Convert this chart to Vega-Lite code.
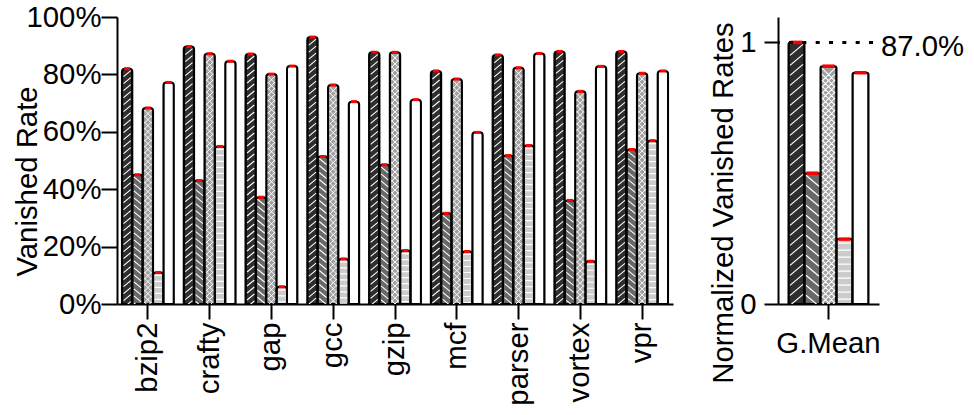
{
  "$schema": "https://vega.github.io/schema/vega-lite/v6.json",
  "background": "white",
  "padding": {"left": 13, "top": 3, "right": 5, "bottom": 3},
  "bounds": "flush",
  "spacing": 105,
  "resolve": {"scale": {"xOffset": "independent", "fill": "independent"}},
  "config": {
    "font": "Liberation Sans",
    "view": {"stroke": null},
    "axis": {
      "domainColor": "#000",
      "domainWidth": 2,
      "tickColor": "#000",
      "tickWidth": 2,
      "labelColor": "#000",
      "labelFontSize": 29.33,
      "titleFontSize": 29.33,
      "titleFontWeight": "normal",
      "titleColor": "#000",
      "grid": false,
      "labelOverlap": false,
      "zindex": 1
    }
  },
  "datasets": {
    "bench": [
      {"bench": "bzip2", "scheme": "s1", "rate": 0.82},
      {"bench": "bzip2", "scheme": "s2", "rate": 0.45},
      {"bench": "bzip2", "scheme": "s3", "rate": 0.683},
      {"bench": "bzip2", "scheme": "s4", "rate": 0.11},
      {"bench": "bzip2", "scheme": "s5", "rate": 0.772},
      {"bench": "crafty", "scheme": "s1", "rate": 0.897},
      {"bench": "crafty", "scheme": "s2", "rate": 0.43},
      {"bench": "crafty", "scheme": "s3", "rate": 0.872},
      {"bench": "crafty", "scheme": "s4", "rate": 0.549},
      {"bench": "crafty", "scheme": "s5", "rate": 0.846},
      {"bench": "gap", "scheme": "s1", "rate": 0.871},
      {"bench": "gap", "scheme": "s2", "rate": 0.372},
      {"bench": "gap", "scheme": "s3", "rate": 0.801},
      {"bench": "gap", "scheme": "s4", "rate": 0.06},
      {"bench": "gap", "scheme": "s5", "rate": 0.829},
      {"bench": "gcc", "scheme": "s1", "rate": 0.93},
      {"bench": "gcc", "scheme": "s2", "rate": 0.514},
      {"bench": "gcc", "scheme": "s3", "rate": 0.763},
      {"bench": "gcc", "scheme": "s4", "rate": 0.157},
      {"bench": "gcc", "scheme": "s5", "rate": 0.705},
      {"bench": "gzip", "scheme": "s1", "rate": 0.877},
      {"bench": "gzip", "scheme": "s2", "rate": 0.485},
      {"bench": "gzip", "scheme": "s3", "rate": 0.877},
      {"bench": "gzip", "scheme": "s4", "rate": 0.186},
      {"bench": "gzip", "scheme": "s5", "rate": 0.712},
      {"bench": "mcf", "scheme": "s1", "rate": 0.812},
      {"bench": "mcf", "scheme": "s2", "rate": 0.316},
      {"bench": "mcf", "scheme": "s3", "rate": 0.784},
      {"bench": "mcf", "scheme": "s4", "rate": 0.183},
      {"bench": "mcf", "scheme": "s5", "rate": 0.598},
      {"bench": "parser", "scheme": "s1", "rate": 0.868},
      {"bench": "parser", "scheme": "s2", "rate": 0.517},
      {"bench": "parser", "scheme": "s3", "rate": 0.823},
      {"bench": "parser", "scheme": "s4", "rate": 0.552},
      {"bench": "parser", "scheme": "s5", "rate": 0.873},
      {"bench": "vortex", "scheme": "s1", "rate": 0.88},
      {"bench": "vortex", "scheme": "s2", "rate": 0.361},
      {"bench": "vortex", "scheme": "s3", "rate": 0.741},
      {"bench": "vortex", "scheme": "s4", "rate": 0.149},
      {"bench": "vortex", "scheme": "s5", "rate": 0.828},
      {"bench": "vpr", "scheme": "s1", "rate": 0.88},
      {"bench": "vpr", "scheme": "s2", "rate": 0.538},
      {"bench": "vpr", "scheme": "s3", "rate": 0.804},
      {"bench": "vpr", "scheme": "s4", "rate": 0.569},
      {"bench": "vpr", "scheme": "s5", "rate": 0.812}
    ],
    "gmean": [
      {"cat": "G.Mean", "scheme": "s1", "norm": 1.0},
      {"cat": "G.Mean", "scheme": "s2", "norm": 0.5},
      {"cat": "G.Mean", "scheme": "s3", "norm": 0.909},
      {"cat": "G.Mean", "scheme": "s4", "norm": 0.248},
      {"cat": "G.Mean", "scheme": "s5", "norm": 0.884}
    ],
    "gmeanRef": [
      {"cat": "G.Mean", "norm": 1, "abs": 0.87}
    ]
  },
  "hconcat": [
    {
      "width": 556,
      "height": 287,
      "data": {"name": "bench"},
      "encoding": {
        "x": {
          "field": "bench", "type": "nominal", "sort": null,
          "scale": {"type": "band", "paddingInner": 0.16, "paddingOuter": 0.08},
          "axis": {"title": null, "labelAngle": -90, "tickSize": 15, "labelPadding": 3}
        },
        "xOffset": {
          "field": "scheme", "type": "nominal",
          "scale": {"domain": ["s1", "s2", "s3", "s4", "s5"], "paddingInner": 0, "paddingOuter": 0}
        },
        "y": {
          "field": "rate", "type": "quantitative",
          "scale": {"domain": [0, 1], "nice": false},
          "axis": {
            "title": "Vanished Rate",
            "values": [0, 0.2, 0.4, 0.6, 0.8, 1],
            "format": ".0%",
            "tickSize": 16,
            "labelPadding": 0,
            "titleAngle": -90,
            "titleX": -81,
            "titleY": 164,
            "titleAlign": "center",
            "titleBaseline": "alphabetic"
          }
        }
      },
      "layer": [
        {
          "mark": {"type": "bar", "stroke": "#000", "strokeWidth": 2, "cornerRadiusEnd": 3},
          "encoding": {
            "fill": {
              "field": "scheme", "type": "nominal", "legend": null,
              "scale": {"domain": ["s1", "s2", "s3", "s4", "s5"], "range": ["#2e2e2e", "#686868", "#a0a0a0", "#cccccc", "#ffffff"]}
            }
          }
        },
        {
          "transform": [{"filter": "datum.scheme === 's1'"}],
          "mark": {
            "type": "point", "filled": false, "size": 4, "opacity": 1, "clip": true,
            "stroke": "#ffffff", "strokeWidth": 1.1,
            "shape": "M-3.6 8l7.2 -6m-7.2 13l7.2 -6m-7.2 13l7.2 -6m-7.2 13l7.2 -6m-7.2 13l7.2 -6m-7.2 13l7.2 -6m-7.2 13l7.2 -6m-7.2 13l7.2 -6m-7.2 13l7.2 -6m-7.2 13l7.2 -6m-7.2 13l7.2 -6m-7.2 13l7.2 -6m-7.2 13l7.2 -6m-7.2 13l7.2 -6m-7.2 13l7.2 -6m-7.2 13l7.2 -6m-7.2 13l7.2 -6m-7.2 13l7.2 -6m-7.2 13l7.2 -6m-7.2 13l7.2 -6m-7.2 13l7.2 -6m-7.2 13l7.2 -6m-7.2 13l7.2 -6m-7.2 13l7.2 -6m-7.2 13l7.2 -6m-7.2 13l7.2 -6m-7.2 13l7.2 -6m-7.2 13l7.2 -6m-7.2 13l7.2 -6m-7.2 13l7.2 -6m-7.2 13l7.2 -6m-7.2 13l7.2 -6m-7.2 13l7.2 -6m-7.2 13l7.2 -6m-7.2 13l7.2 -6m-7.2 13l7.2 -6m-7.2 13l7.2 -6m-7.2 13l7.2 -6m-7.2 13l7.2 -6m-7.2 13l7.2 -6m-7.2 13l7.2 -6"
          }
        },
        {
          "transform": [{"filter": "datum.scheme === 's2'"}],
          "mark": {
            "type": "point", "filled": false, "size": 4, "opacity": 1, "clip": true,
            "stroke": "#ffffff", "strokeWidth": 1.1,
            "shape": "M-3.6 2l7.2 6m-7.2 1l7.2 6m-7.2 1l7.2 6m-7.2 1l7.2 6m-7.2 1l7.2 6m-7.2 1l7.2 6m-7.2 1l7.2 6m-7.2 1l7.2 6m-7.2 1l7.2 6m-7.2 1l7.2 6m-7.2 1l7.2 6m-7.2 1l7.2 6m-7.2 1l7.2 6m-7.2 1l7.2 6m-7.2 1l7.2 6m-7.2 1l7.2 6m-7.2 1l7.2 6m-7.2 1l7.2 6m-7.2 1l7.2 6m-7.2 1l7.2 6m-7.2 1l7.2 6m-7.2 1l7.2 6m-7.2 1l7.2 6m-7.2 1l7.2 6m-7.2 1l7.2 6m-7.2 1l7.2 6"
          }
        },
        {
          "transform": [{"filter": "datum.scheme === 's3'"}],
          "mark": {
            "type": "point", "filled": false, "size": 4, "opacity": 1, "clip": true,
            "stroke": "#ffffff", "strokeWidth": 1,
            "shape": "M-3.6 9.2l7.2 -7.2m-7.2 13.2l7.2 -7.2m-7.2 13.2l7.2 -7.2m-7.2 13.2l7.2 -7.2m-7.2 13.2l7.2 -7.2m-7.2 13.2l7.2 -7.2m-7.2 13.2l7.2 -7.2m-7.2 13.2l7.2 -7.2m-7.2 13.2l7.2 -7.2m-7.2 13.2l7.2 -7.2m-7.2 13.2l7.2 -7.2m-7.2 13.2l7.2 -7.2m-7.2 13.2l7.2 -7.2m-7.2 13.2l7.2 -7.2m-7.2 13.2l7.2 -7.2m-7.2 13.2l7.2 -7.2m-7.2 13.2l7.2 -7.2m-7.2 13.2l7.2 -7.2m-7.2 13.2l7.2 -7.2m-7.2 13.2l7.2 -7.2m-7.2 13.2l7.2 -7.2m-7.2 13.2l7.2 -7.2m-7.2 13.2l7.2 -7.2m-7.2 13.2l7.2 -7.2m-7.2 13.2l7.2 -7.2m-7.2 13.2l7.2 -7.2m-7.2 13.2l7.2 -7.2m-7.2 13.2l7.2 -7.2m-7.2 13.2l7.2 -7.2m-7.2 13.2l7.2 -7.2m-7.2 13.2l7.2 -7.2m-7.2 13.2l7.2 -7.2m-7.2 13.2l7.2 -7.2m-7.2 13.2l7.2 -7.2m-7.2 13.2l7.2 -7.2m-7.2 13.2l7.2 -7.2m-7.2 13.2l7.2 -7.2m-7.2 13.2l7.2 -7.2m-7.2 13.2l7.2 -7.2m-7.2 13.2l7.2 -7.2m-7.2 13.2l7.2 -7.2m-7.2 13.2l7.2 -7.2m-7.2 13.2l7.2 -7.2m-7.2 13.2l7.2 -7.2M-3.6 2l7.2 7.2m-7.2 -1.2l7.2 7.2m-7.2 -1.2l7.2 7.2m-7.2 -1.2l7.2 7.2m-7.2 -1.2l7.2 7.2m-7.2 -1.2l7.2 7.2m-7.2 -1.2l7.2 7.2m-7.2 -1.2l7.2 7.2m-7.2 -1.2l7.2 7.2m-7.2 -1.2l7.2 7.2m-7.2 -1.2l7.2 7.2m-7.2 -1.2l7.2 7.2m-7.2 -1.2l7.2 7.2m-7.2 -1.2l7.2 7.2m-7.2 -1.2l7.2 7.2m-7.2 -1.2l7.2 7.2m-7.2 -1.2l7.2 7.2m-7.2 -1.2l7.2 7.2m-7.2 -1.2l7.2 7.2m-7.2 -1.2l7.2 7.2m-7.2 -1.2l7.2 7.2m-7.2 -1.2l7.2 7.2m-7.2 -1.2l7.2 7.2m-7.2 -1.2l7.2 7.2m-7.2 -1.2l7.2 7.2m-7.2 -1.2l7.2 7.2m-7.2 -1.2l7.2 7.2m-7.2 -1.2l7.2 7.2m-7.2 -1.2l7.2 7.2m-7.2 -1.2l7.2 7.2m-7.2 -1.2l7.2 7.2m-7.2 -1.2l7.2 7.2m-7.2 -1.2l7.2 7.2m-7.2 -1.2l7.2 7.2m-7.2 -1.2l7.2 7.2m-7.2 -1.2l7.2 7.2m-7.2 -1.2l7.2 7.2m-7.2 -1.2l7.2 7.2m-7.2 -1.2l7.2 7.2m-7.2 -1.2l7.2 7.2m-7.2 -1.2l7.2 7.2m-7.2 -1.2l7.2 7.2m-7.2 -1.2l7.2 7.2m-7.2 -1.2l7.2 7.2m-7.2 -1.2l7.2 7.2"
          }
        },
        {
          "transform": [{"filter": "datum.scheme === 's4'"}],
          "mark": {
            "type": "point", "filled": false, "size": 4, "opacity": 1, "clip": true,
            "stroke": "#ffffff", "strokeWidth": 1.2,
            "shape": "M-3.6 3h7.2m-7.2 6h7.2m-7.2 6h7.2m-7.2 6h7.2m-7.2 6h7.2m-7.2 6h7.2m-7.2 6h7.2m-7.2 6h7.2m-7.2 6h7.2m-7.2 6h7.2m-7.2 6h7.2m-7.2 6h7.2m-7.2 6h7.2m-7.2 6h7.2m-7.2 6h7.2m-7.2 6h7.2m-7.2 6h7.2m-7.2 6h7.2m-7.2 6h7.2m-7.2 6h7.2m-7.2 6h7.2m-7.2 6h7.2m-7.2 6h7.2m-7.2 6h7.2m-7.2 6h7.2m-7.2 6h7.2m-7.2 6h7.2m-7.2 6h7.2m-7.2 6h7.2m-7.2 6h7.2"
          }
        },
        {
          "mark": {"type": "tick", "color": "#ff0000", "size": 6, "thickness": 3, "opacity": 1}
        }
      ]
    },
    {
      "width": 101,
      "height": 287,
      "data": {"name": "gmean"},
      "layer": [
        {
          "mark": {"type": "bar", "stroke": "#000", "strokeWidth": 2, "cornerRadiusEnd": 2},
          "encoding": {
            "x": {
              "field": "cat", "type": "nominal",
              "scale": {"type": "band", "paddingInner": 0, "paddingOuter": 0},
              "axis": {"title": null, "labelAngle": 0, "tickSize": 15, "labelPadding": 10}
            },
            "xOffset": {
              "field": "scheme", "type": "nominal",
              "scale": {"domain": ["s1", "s2", "s3", "s4", "s5"], "paddingInner": 0, "paddingOuter": 0.656}
            },
            "y": {
              "field": "norm", "type": "quantitative",
              "scale": {"domain": [0, 1.097], "nice": false},
              "axis": {
                "title": "Normalized Vanished Rates",
                "values": [0, 1],
                "format": "d",
                "tickSize": 14,
                "labelPadding": 8,
                "titleAngle": -90,
                "titleX": -46,
                "titleY": 185.5,
                "titleAlign": "center",
                "titleBaseline": "alphabetic"
              }
            },
            "fill": {
              "field": "scheme", "type": "nominal", "legend": null,
              "scale": {"domain": ["s1", "s2", "s3", "s4", "s5"], "range": ["#2e2e2e", "#686868", "#a0a0a0", "#cccccc", "#ffffff"]}
            }
          }
        },
        {
          "transform": [{"filter": "datum.scheme === 's1'"}],
          "mark": {
            "type": "point", "filled": false, "size": 4, "opacity": 1, "clip": true,
            "stroke": "#ffffff", "strokeWidth": 1.2,
            "shape": "M-6.5 13l13 -11m-13 21l13 -11m-13 21l13 -11m-13 21l13 -11m-13 21l13 -11m-13 21l13 -11m-13 21l13 -11m-13 21l13 -11m-13 21l13 -11m-13 21l13 -11m-13 21l13 -11m-13 21l13 -11m-13 21l13 -11m-13 21l13 -11m-13 21l13 -11m-13 21l13 -11m-13 21l13 -11m-13 21l13 -11m-13 21l13 -11m-13 21l13 -11m-13 21l13 -11m-13 21l13 -11m-13 21l13 -11m-13 21l13 -11m-13 21l13 -11m-13 21l13 -11m-13 21l13 -11m-13 21l13 -11m-13 21l13 -11"
          },
          "encoding": {
            "x": {"field": "cat", "type": "nominal"},
            "xOffset": {"field": "scheme", "type": "nominal"},
            "y": {"field": "norm", "type": "quantitative"}
          }
        },
        {
          "transform": [{"filter": "datum.scheme === 's2'"}],
          "mark": {
            "type": "point", "filled": false, "size": 4, "opacity": 1, "clip": true,
            "stroke": "#ffffff", "strokeWidth": 1.2,
            "shape": "M-6.5 2l13 11m-13 -1l13 11m-13 -1l13 11m-13 -1l13 11m-13 -1l13 11m-13 -1l13 11m-13 -1l13 11m-13 -1l13 11m-13 -1l13 11m-13 -1l13 11m-13 -1l13 11m-13 -1l13 11m-13 -1l13 11m-13 -1l13 11m-13 -1l13 11m-13 -1l13 11"
          },
          "encoding": {
            "x": {"field": "cat", "type": "nominal"},
            "xOffset": {"field": "scheme", "type": "nominal"},
            "y": {"field": "norm", "type": "quantitative"}
          }
        },
        {
          "transform": [{"filter": "datum.scheme === 's3'"}],
          "mark": {
            "type": "point", "filled": false, "size": 4, "opacity": 1, "clip": true,
            "stroke": "#ffffff", "strokeWidth": 1.1,
            "shape": "M-6.5 15l13 -13m-13 19l13 -13m-13 19l13 -13m-13 19l13 -13m-13 19l13 -13m-13 19l13 -13m-13 19l13 -13m-13 19l13 -13m-13 19l13 -13m-13 19l13 -13m-13 19l13 -13m-13 19l13 -13m-13 19l13 -13m-13 19l13 -13m-13 19l13 -13m-13 19l13 -13m-13 19l13 -13m-13 19l13 -13m-13 19l13 -13m-13 19l13 -13m-13 19l13 -13m-13 19l13 -13m-13 19l13 -13m-13 19l13 -13m-13 19l13 -13m-13 19l13 -13m-13 19l13 -13m-13 19l13 -13m-13 19l13 -13m-13 19l13 -13m-13 19l13 -13m-13 19l13 -13m-13 19l13 -13m-13 19l13 -13m-13 19l13 -13m-13 19l13 -13m-13 19l13 -13m-13 19l13 -13m-13 19l13 -13m-13 19l13 -13m-13 19l13 -13M-6.5 2l13 13m-13 -7l13 13m-13 -7l13 13m-13 -7l13 13m-13 -7l13 13m-13 -7l13 13m-13 -7l13 13m-13 -7l13 13m-13 -7l13 13m-13 -7l13 13m-13 -7l13 13m-13 -7l13 13m-13 -7l13 13m-13 -7l13 13m-13 -7l13 13m-13 -7l13 13m-13 -7l13 13m-13 -7l13 13m-13 -7l13 13m-13 -7l13 13m-13 -7l13 13m-13 -7l13 13m-13 -7l13 13m-13 -7l13 13m-13 -7l13 13m-13 -7l13 13m-13 -7l13 13m-13 -7l13 13m-13 -7l13 13m-13 -7l13 13m-13 -7l13 13m-13 -7l13 13m-13 -7l13 13m-13 -7l13 13m-13 -7l13 13m-13 -7l13 13m-13 -7l13 13m-13 -7l13 13m-13 -7l13 13m-13 -7l13 13m-13 -7l13 13"
          },
          "encoding": {
            "x": {"field": "cat", "type": "nominal"},
            "xOffset": {"field": "scheme", "type": "nominal"},
            "y": {"field": "norm", "type": "quantitative"}
          }
        },
        {
          "transform": [{"filter": "datum.scheme === 's4'"}],
          "mark": {
            "type": "point", "filled": false, "size": 4, "opacity": 1, "clip": true,
            "stroke": "#ffffff", "strokeWidth": 1.3,
            "shape": "M-6.5 4h13m-13 7h13m-13 7h13m-13 7h13m-13 7h13m-13 7h13m-13 7h13m-13 7h13m-13 7h13m-13 7h13m-13 7h13m-13 7h13"
          },
          "encoding": {
            "x": {"field": "cat", "type": "nominal"},
            "xOffset": {"field": "scheme", "type": "nominal"},
            "y": {"field": "norm", "type": "quantitative"}
          }
        },
        {
          "mark": {"type": "tick", "color": "#ff0000", "size": 12, "thickness": 3.5, "opacity": 1},
          "encoding": {
            "x": {"field": "cat", "type": "nominal"},
            "xOffset": {"field": "scheme", "type": "nominal"},
            "y": {"field": "norm", "type": "quantitative"}
          }
        },
        {
          "data": {"name": "gmeanRef"},
          "mark": {"type": "rule", "color": "#000", "strokeWidth": 3, "strokeDash": [4, 9.33], "strokeDashOffset": 7.33},
          "encoding": {
            "y": {"field": "norm", "type": "quantitative"}
          }
        },
        {
          "data": {"name": "gmeanRef"},
          "mark": {"type": "text", "align": "left", "baseline": "alphabetic", "dx": 2, "dy": 14, "fontSize": 29.33, "color": "#000"},
          "encoding": {
            "x": {"field": "cat", "type": "nominal", "bandPosition": 1},
            "y": {"field": "norm", "type": "quantitative"},
            "text": {"field": "abs", "type": "quantitative", "format": ".1%"}
          }
        }
      ]
    }
  ]
}
